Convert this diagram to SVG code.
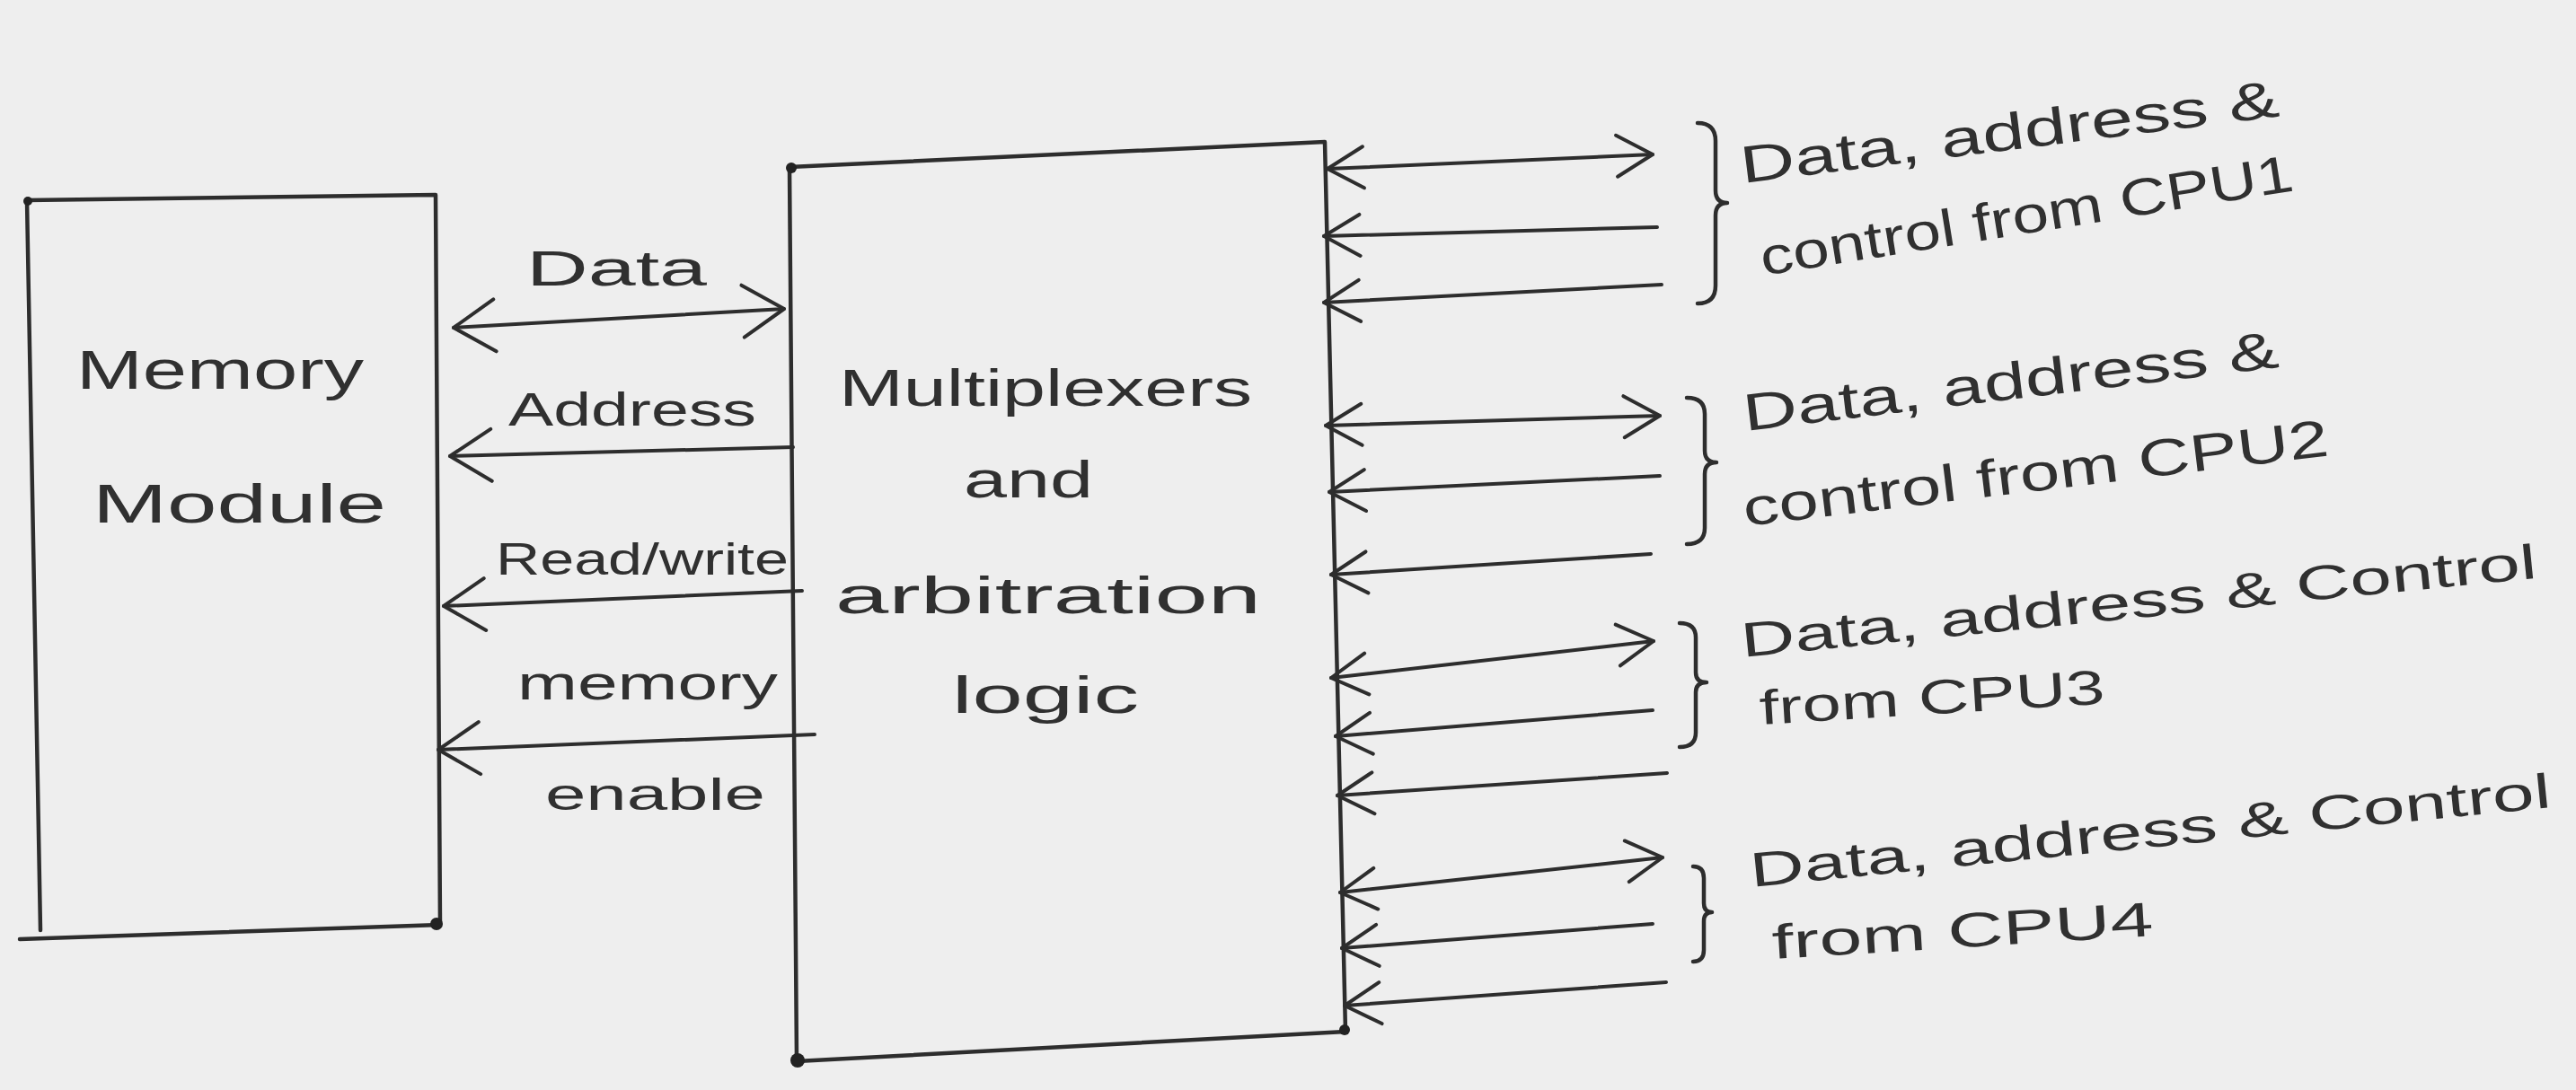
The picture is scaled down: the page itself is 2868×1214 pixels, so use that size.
<svg xmlns="http://www.w3.org/2000/svg" width="2868" height="1214" viewBox="0 0 2868 1214">
  <style>
    .ink{fill:none;stroke:#2d2d2d;stroke-width:4.5;stroke-linecap:round;stroke-linejoin:round}
    .wire{fill:none;stroke:#2d2d2d;stroke-width:4;stroke-linecap:round}
    .big{marker-end:url(#head-lg)}
    .big2{marker-start:url(#head-lg);marker-end:url(#head-lg)}
    .sm{marker-end:url(#head-sm)}
    .sm2{marker-start:url(#head-sm);marker-end:url(#head-sm)}
    .lbl{font-family:"Liberation Sans",Arial,sans-serif;fill:#303030}
    .dot{fill:#222}
  </style>
  <defs>
    <marker id="head-lg" viewBox="-52 -34 56 68" refX="0" refY="0" markerWidth="56" markerHeight="68" markerUnits="userSpaceOnUse" orient="auto-start-reverse">
      <path d="M-46,-29 L0,0 L-46,29" fill="none" stroke="#2d2d2d" stroke-width="4" stroke-linecap="round" stroke-linejoin="round"/>
    </marker>
    <marker id="head-sm" viewBox="-46 -28 50 56" refX="0" refY="0" markerWidth="50" markerHeight="56" markerUnits="userSpaceOnUse" orient="auto-start-reverse">
      <path d="M-40,-23 L0,0 L-40,23" fill="none" stroke="#2d2d2d" stroke-width="4" stroke-linecap="round" stroke-linejoin="round"/>
    </marker>
  </defs>

  <!-- paper -->
  <rect width="2868" height="1214" fill="#eeeeee"/>

  <!-- memory module block -->
  <g id="memory-module">
    <path class="ink" d="M45,1036 L30,223 L485,217 L490,1030 L22,1046"/>
    <circle class="dot" cx="31" cy="224" r="5"/>
    <circle class="dot" cx="486" cy="1029" r="7"/>
    <text class="lbl" x="85" y="433" font-size="62" textLength="320" lengthAdjust="spacingAndGlyphs">Memory</text>
    <text class="lbl" x="103" y="582" font-size="62" textLength="327" lengthAdjust="spacingAndGlyphs">Module</text>
  </g>

  <!-- multiplexer / arbitration block -->
  <g id="mux-arbiter">
    <path class="ink" d="M879,186 L1475,158 L1498,1149 L887,1182 Z"/>
    <circle class="dot" cx="881" cy="187" r="6"/>
    <circle class="dot" cx="888" cy="1181" r="8"/>
    <circle class="dot" cx="1497" cy="1147" r="6"/>
    <text class="lbl" x="934" y="452" font-size="58" textLength="460" lengthAdjust="spacingAndGlyphs">Multiplexers</text>
    <text class="lbl" x="1073" y="554" font-size="58" textLength="144" lengthAdjust="spacingAndGlyphs">and</text>
    <text class="lbl" x="930" y="683" font-size="58" textLength="474" lengthAdjust="spacingAndGlyphs">arbitration</text>
    <text class="lbl" x="1060" y="794" font-size="58" textLength="208" lengthAdjust="spacingAndGlyphs">logic</text>
  </g>

  <!-- memory-side signal labels -->
  <g id="memory-signals">
    <text class="lbl" x="586" y="318" font-size="56" textLength="201" lengthAdjust="spacingAndGlyphs">Data</text>
    <text class="lbl" x="566" y="474" font-size="52" textLength="276" lengthAdjust="spacingAndGlyphs">Address</text>
    <text class="lbl" x="552" y="640" font-size="50" textLength="326" lengthAdjust="spacingAndGlyphs">Read/write</text>
    <text class="lbl" x="576" y="779" font-size="54" textLength="290" lengthAdjust="spacingAndGlyphs">memory</text>
    <text class="lbl" x="607" y="902" font-size="50" textLength="245" lengthAdjust="spacingAndGlyphs">enable</text>
  </g>

  <!-- CPU port groups -->
  <g id="cpu1-port">
    <path class="ink" d="M1890,137 Q1910,137 1910,157 L1910,212 Q1910,226 1923,226 Q1910,226 1910,240 L1910,318 Q1910,338 1890,338"/>
    <text class="lbl" transform="translate(1940,204) rotate(-7.1)" font-size="58" textLength="604" lengthAdjust="spacingAndGlyphs">Data, address &amp;</text>
    <text class="lbl" transform="translate(1963,307) rotate(-9.1)" font-size="58" textLength="600" lengthAdjust="spacingAndGlyphs">control from CPU1</text>
  </g>
  <g id="cpu2-port">
    <path class="ink" d="M1878,443 Q1898,443 1898,461 L1898,502 Q1898,515 1911,515 Q1898,515 1898,528 L1898,588 Q1898,606 1878,606"/>
    <text class="lbl" transform="translate(1943,480) rotate(-6.8)" font-size="58" textLength="600" lengthAdjust="spacingAndGlyphs">Data, address &amp;</text>
    <text class="lbl" transform="translate(1943,586) rotate(-6.9)" font-size="58" textLength="656" lengthAdjust="spacingAndGlyphs">control from CPU2</text>
  </g>
  <g id="cpu3-port">
    <path class="ink" d="M1870,694 Q1888,694 1888,710 L1888,749 Q1888,760 1900,760 Q1888,760 1888,771 L1888,816 Q1888,832 1870,832"/>
    <text class="lbl" transform="translate(1940,732) rotate(-5.7)" font-size="54" textLength="890" lengthAdjust="spacingAndGlyphs">Data, address &amp; Control</text>
    <text class="lbl" transform="translate(1960,807) rotate(-3.5)" font-size="54" textLength="385" lengthAdjust="spacingAndGlyphs">from CPU3</text>
  </g>
  <g id="cpu4-port">
    <path class="ink" d="M1885,965 Q1897,965 1897,978 L1897,1006 Q1897,1016 1906,1016 Q1897,1016 1897,1026 L1897,1058 Q1897,1071 1885,1071"/>
    <text class="lbl" transform="translate(1950,988) rotate(-5.7)" font-size="54" textLength="896" lengthAdjust="spacingAndGlyphs">Data, address &amp; Control</text>
    <text class="lbl" transform="translate(1974,1068) rotate(-3.5)" font-size="54" textLength="425" lengthAdjust="spacingAndGlyphs">from CPU4</text>
  </g>

  <!-- connectors -->
  <g id="connectors">
    <!-- memory side -->
    <path class="wire big2" d="M505,365 L873,344"/>
    <path class="wire big" d="M883,498 L501,508"/>
    <path class="wire big" d="M893,658 L494,675"/>
    <path class="wire big" d="M907,818 L488,835"/>
    <!-- CPU1 -->
    <path class="wire sm2" d="M1840,172 L1478,188"/>
    <path class="wire sm" d="M1845,253 L1474,263"/>
    <path class="wire sm" d="M1850,317 L1474,337"/>
    <!-- CPU2 -->
    <path class="wire sm2" d="M1848,463 L1476,474"/>
    <path class="wire sm" d="M1848,530 L1480,548"/>
    <path class="wire sm" d="M1838,617 L1482,640"/>
    <!-- CPU3 -->
    <path class="wire sm2" d="M1841,714 L1482,755"/>
    <path class="wire sm" d="M1840,791 L1487,820"/>
    <path class="wire sm" d="M1856,861 L1489,886"/>
    <!-- CPU4 -->
    <path class="wire sm2" d="M1851,955 L1492,994"/>
    <path class="wire sm" d="M1840,1029 L1494,1056"/>
    <path class="wire sm" d="M1855,1094 L1497,1120"/>
  </g>
</svg>
